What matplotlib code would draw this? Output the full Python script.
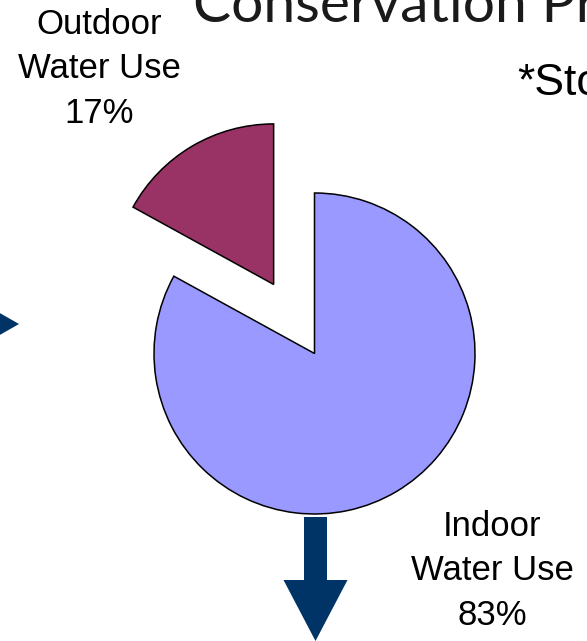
import numpy as np
import matplotlib
matplotlib.use("Agg")
import matplotlib.pyplot as plt
from matplotlib.patches import FancyArrow, Polygon

# data
categories = ['Indoor\nWater Use', 'Outdoor\nWater Use']
shares = [83, 17]
colors = ['#9999FF', '#993366']
explode = [0.0, 0.5]   # fraction of the radius

W, H = 587, 641
fig = plt.figure(figsize=(W / 100, H / 100), dpi=100)
ax = fig.add_axes([0, 0, 1, 1])

# pie in pixel coordinates (y measured from the bottom)
cx, cy, r = 314.5, H - 353.5, 160.5
ax.pie(shares, colors=colors, explode=[e * r for e in explode],
       startangle=90, counterclock=False,
       center=(cx, cy), radius=r, frame=True,
       wedgeprops=dict(edgecolor='black', linewidth=1.1))
ax.set_xlim(0, W)
ax.set_ylim(0, H)
ax.axis('off')

lab_font = dict(family='Liberation Sans', fontsize=25, ha='center', va='baseline',
                linespacing=1.45, color='black')
ax.text(99, H - 123, f"{categories[1]}\n{shares[1]}%", **lab_font)
ax.text(492, H - 625, f"{categories[0]}\n{shares[0]}%", **lab_font)

# slide elements around the chart
ax.text(193, H - 22, "Conservation Program", family='Lato',
        fontsize=41, ha='left', va='baseline', color='#1a1a1a')
ax.text(517, H - 95, "*Sto", family='Liberation Sans', fontsize=32,
        ha='left', va='baseline', color='black')

navy = '#003366'
ax.add_patch(FancyArrow(315.5, H - 517, 0, -124, width=23, head_width=64,
                        head_length=61, length_includes_head=True,
                        color=navy, linewidth=0))
ax.add_patch(Polygon([(-2, H - 312), (19, H - 324), (-2, H - 336)],
                     closed=True, color=navy, linewidth=0))

fig.savefig('out.png', dpi=100)
